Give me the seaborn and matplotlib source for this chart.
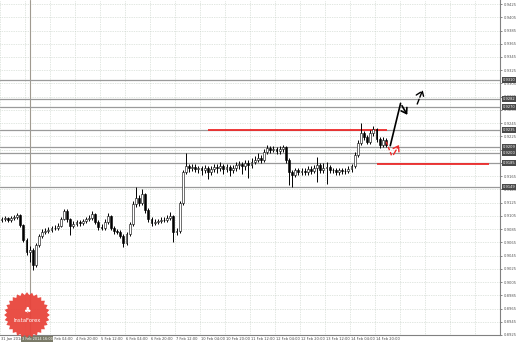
import numpy as np
import matplotlib
matplotlib.use("Agg")
import matplotlib.pyplot as plt
import seaborn as sns
from matplotlib.patches import Polygon

# ---------------- data (2-hour candles) ----------------
closes = [0.9100, 0.9102, 0.9099, 0.9102, 0.9103, 0.9106, 0.9091, 0.9069, 0.9051, 0.9054,
          0.9031, 0.9061, 0.9075, 0.9081, 0.9082, 0.9084, 0.9087, 0.9087, 0.9090, 0.9100,
          0.9113, 0.9100, 0.9090, 0.9093, 0.9096, 0.9094, 0.9097, 0.9100, 0.9102, 0.9108,
          0.9096, 0.9088, 0.9087, 0.9096, 0.9105, 0.9087, 0.9082, 0.9081, 0.9075, 0.9064,
          0.9078, 0.9093, 0.9123, 0.9132, 0.9125, 0.9138, 0.9114, 0.9100, 0.9094, 0.9096,
          0.9097, 0.9099, 0.9099, 0.9102, 0.9105, 0.9081, 0.9082, 0.9125, 0.9171, 0.9180,
          0.9177, 0.9179, 0.9176, 0.9177, 0.9174, 0.9177, 0.9171, 0.9176, 0.9179, 0.9177,
          0.9180, 0.9176, 0.9179, 0.9174, 0.9177, 0.9182, 0.9183, 0.9180, 0.9185, 0.9182,
          0.9187, 0.9190, 0.9193, 0.9190, 0.9202, 0.9208, 0.9205, 0.9206, 0.9203, 0.9206,
          0.9209, 0.9190, 0.9171, 0.9167, 0.9174, 0.9171, 0.9173, 0.9171, 0.9176, 0.9173,
          0.9177, 0.9182, 0.9174, 0.9177, 0.9179, 0.9174, 0.9174, 0.9171, 0.9174, 0.9173,
          0.9173, 0.9176, 0.9180, 0.9197, 0.9215, 0.9230, 0.9224, 0.9217, 0.9230, 0.9236,
          0.9221, 0.9212, 0.9220, 0.9212]
opens = [0.9098, 0.9100, 0.9102, 0.9099, 0.9102, 0.9103, 0.9106, 0.9091, 0.9069, 0.9051,
         0.9054, 0.9031, 0.9061, 0.9075, 0.9081, 0.9082, 0.9084, 0.9087, 0.9087, 0.9090,
         0.9100, 0.9113, 0.9100, 0.9090, 0.9093, 0.9096, 0.9094, 0.9097, 0.9100, 0.9102,
         0.9108, 0.9096, 0.9088, 0.9087, 0.9096, 0.9105, 0.9087, 0.9082, 0.9081, 0.9075,
         0.9064, 0.9078, 0.9093, 0.9123, 0.9132, 0.9125, 0.9138, 0.9114, 0.9100, 0.9094,
         0.9096, 0.9097, 0.9099, 0.9099, 0.9102, 0.9105, 0.9081, 0.9082, 0.9125, 0.9171,
         0.9180, 0.9177, 0.9179, 0.9176, 0.9177, 0.9174, 0.9177, 0.9171, 0.9176, 0.9179,
         0.9177, 0.9180, 0.9176, 0.9179, 0.9174, 0.9177, 0.9182, 0.9183, 0.9180, 0.9185,
         0.9182, 0.9187, 0.9190, 0.9193, 0.9190, 0.9202, 0.9208, 0.9205, 0.9206, 0.9203,
         0.9206, 0.9209, 0.9190, 0.9171, 0.9167, 0.9174, 0.9171, 0.9173, 0.9171, 0.9176,
         0.9173, 0.9177, 0.9182, 0.9174, 0.9177, 0.9179, 0.9174, 0.9174, 0.9171, 0.9174,
         0.9173, 0.9173, 0.9176, 0.9180, 0.9197, 0.9215, 0.9230, 0.9224, 0.9217, 0.9230,
         0.9236, 0.9221, 0.9212, 0.9220]
highs = [0.9104, 0.9105, 0.9104, 0.9105, 0.9107, 0.9110, 0.9108, 0.9093, 0.9072, 0.9060,
         0.9057, 0.9064, 0.9078, 0.9085, 0.9086, 0.9088, 0.9090, 0.9091, 0.9094, 0.9104,
         0.9116, 0.9115, 0.9102, 0.9097, 0.9099, 0.9099, 0.9101, 0.9104, 0.9106, 0.9112,
         0.9110, 0.9098, 0.9092, 0.9100, 0.9110, 0.9107, 0.9090, 0.9085, 0.9084, 0.9078,
         0.9081, 0.9096, 0.9127, 0.9149, 0.9136, 0.9146, 0.9140, 0.9117, 0.9103, 0.9100,
         0.9101, 0.9103, 0.9103, 0.9106, 0.9111, 0.9107, 0.9086, 0.9128, 0.9175, 0.9200,
         0.9184, 0.9183, 0.9183, 0.9181, 0.9180, 0.9182, 0.9180, 0.9180, 0.9184, 0.9183,
         0.9186, 0.9183, 0.9184, 0.9182, 0.9182, 0.9187, 0.9188, 0.9186, 0.9190, 0.9189,
         0.9192, 0.9195, 0.9200, 0.9197, 0.9206, 0.9212, 0.9211, 0.9210, 0.9209, 0.9210,
         0.9212, 0.9211, 0.9193, 0.9175, 0.9178, 0.9178, 0.9177, 0.9177, 0.9180, 0.9180,
         0.9182, 0.9194, 0.9185, 0.9185, 0.9186, 0.9182, 0.9178, 0.9177, 0.9178, 0.9178,
         0.9177, 0.9180, 0.9184, 0.9201, 0.9219, 0.9245, 0.9233, 0.9227, 0.9234, 0.9241,
         0.9238, 0.9224, 0.9224, 0.9223]
lows = [0.9095, 0.9097, 0.9096, 0.9096, 0.9099, 0.9100, 0.9088, 0.9065, 0.9046, 0.9036,
        0.9023, 0.9028, 0.9058, 0.9072, 0.9077, 0.9079, 0.9080, 0.9083, 0.9084, 0.9088,
        0.9098, 0.9096, 0.9076, 0.9087, 0.9090, 0.9090, 0.9091, 0.9094, 0.9097, 0.9099,
        0.9092, 0.9084, 0.9083, 0.9084, 0.9093, 0.9083, 0.9078, 0.9077, 0.9071, 0.9058,
        0.9061, 0.9075, 0.9090, 0.9119, 0.9120, 0.9121, 0.9110, 0.9096, 0.9090, 0.9091,
        0.9092, 0.9094, 0.9095, 0.9096, 0.9099, 0.9066, 0.9076, 0.9079, 0.9122, 0.9168,
        0.9172, 0.9173, 0.9171, 0.9170, 0.9166, 0.9169, 0.9160, 0.9167, 0.9172, 0.9170,
        0.9173, 0.9168, 0.9172, 0.9165, 0.9170, 0.9173, 0.9176, 0.9168, 0.9175, 0.9162,
        0.9178, 0.9183, 0.9186, 0.9185, 0.9187, 0.9198, 0.9200, 0.9201, 0.9199, 0.9199,
        0.9202, 0.9185, 0.9152, 0.9149, 0.9163, 0.9166, 0.9166, 0.9166, 0.9167, 0.9168,
        0.9169, 0.9156, 0.9170, 0.9170, 0.9153, 0.9170, 0.9169, 0.9166, 0.9167, 0.9168,
        0.9168, 0.9169, 0.9172, 0.9177, 0.9194, 0.9212, 0.9219, 0.9213, 0.9214, 0.9226,
        0.9217, 0.9208, 0.9209, 0.9209]

# the 3 Feb 12:00 tick label is hidden under the vertical-line date box in the reference
x_labels = ["31 Jan 2014", "", "4 Feb 04:00", "4 Feb 20:00", "5 Feb 12:00",
            "6 Feb 04:00", "6 Feb 20:00", "7 Feb 12:00", "10 Feb 04:00", "10 Feb 20:00",
            "11 Feb 12:00", "12 Feb 04:00", "12 Feb 20:00", "13 Feb 12:00", "14 Feb 04:00",
            "14 Feb 20:00"]
y_ticks = [0.8925, 0.8945, 0.8965, 0.8985, 0.9005, 0.9025, 0.9045, 0.9065, 0.9085,
           0.9105, 0.9125, 0.9145, 0.9165, 0.9185, 0.9205, 0.9225, 0.9245, 0.9265,
           0.9285, 0.9305, 0.9325, 0.9345, 0.9365, 0.9385, 0.9405, 0.9425]
levels = [0.9310, 0.9282, 0.9270, 0.9235, 0.9209, 0.9200, 0.9185, 0.9149]
red_levels = [0.9235, 0.9183]
red_starts = [66.0, 120.0]
red_ends = [123.5, 156.0]
vline_x = 9.1
vline_label = "3 Feb 2014 16:00"

# forecast arrows (x in candle units, y in price)
black_path_x = [124.4, 127.7, 130.3]
black_path_y = [0.9211, 0.9275, 0.9254]
black_dash_x = [132.7, 135.1]
black_dash_y = [0.9270, 0.9299]
red_path_x = [123.1, 125.0, 127.7]
red_path_y = [0.9217, 0.9194, 0.9216]

# ---------------- figure ----------------
sns.set_theme(style="white")
plt.rcParams["font.family"] = ["DejaVu Sans"]

W, H = 518, 345
fig = plt.figure(figsize=(W / 100, H / 100), dpi=100)
fig.patch.set_facecolor("white")
ax = fig.add_axes([0, 10 / H, 500 / W, 335 / H])
ax.set_facecolor("white")

o = np.array(opens); c = np.array(closes)
hi = np.array(highs); lo = np.array(lows)
xs = np.arange(len(c))

ax.set_xlim(-0.48, 159.52)
ax.set_ylim(0.89253, 0.94311)

# grid
grid_x = [-0.5 + 8 * k for k in range(20)]
for gx in grid_x:
    ax.axvline(gx, color="#c4cfc4", lw=0.5, ls=(0, (1, 1.5)), zorder=0)
for gy in y_ticks:
    ax.axhline(gy, color="#c4cfc4", lw=0.5, ls=(0, (1, 1.5)), zorder=0)

# vertical separator line
ax.axvline(vline_x, color="#a09a90", lw=0.8, zorder=1)

# level lines
for lv in levels:
    ax.axhline(lv, color="#9a9a9a", lw=0.9, zorder=1)
for lv, s, e in zip(red_levels, red_starts, red_ends):
    ax.plot([s, e], [lv, lv], color="#ee2a2a", lw=1.3, zorder=2, solid_capstyle="butt")

# candles
ax.vlines(xs, lo, hi, color="black", lw=0.7, zorder=3)
bull = c >= o
hgt = np.maximum(np.abs(c - o), 0.00004)
bot = np.minimum(o, c)
ax.bar(xs[bull], hgt[bull], bottom=bot[bull], width=0.6, color="white",
       edgecolor="black", lw=0.4, zorder=4)
ax.bar(xs[~bull], hgt[~bull], bottom=bot[~bull], width=0.6, color="black",
       edgecolor="black", lw=0.4, zorder=4)

# arrows
ax.plot(black_path_x[:2], black_path_y[:2], color="black", lw=1.2, zorder=5)
ax.annotate("", xy=(black_path_x[2], black_path_y[2]), xytext=(black_path_x[1], black_path_y[1]),
            arrowprops=dict(arrowstyle="->,head_length=0.3,head_width=0.2", color="black", lw=1.2),
            zorder=5)
ax.annotate("", xy=(black_dash_x[1], black_dash_y[1]), xytext=(black_dash_x[0], black_dash_y[0]),
            arrowprops=dict(arrowstyle="->,head_length=0.35,head_width=0.25", color="black", lw=1.0,
                            ls="--"), zorder=5)
ax.plot(red_path_x[:2], red_path_y[:2], color="#ee2a2a", lw=1.0, ls=(0, (2.5, 1.5)), zorder=5)
ax.annotate("", xy=(red_path_x[2], red_path_y[2]), xytext=(red_path_x[1], red_path_y[1]),
            arrowprops=dict(arrowstyle="->,head_length=0.3,head_width=0.2", color="#ee2a2a", lw=1.0,
                            ls="--"), zorder=5)

# axes styling
for s in ["left", "top"]:
    ax.spines[s].set_visible(False)
for s in ["right", "bottom"]:
    ax.spines[s].set_color("#808080")
    ax.spines[s].set_linewidth(0.8)
ax.yaxis.tick_right()
ax.set_yticks(y_ticks)
ax.set_yticklabels([f"{v:.4f}" for v in y_ticks])
ax.tick_params(axis="y", labelsize=2.7, colors="#555555", length=1.5, pad=1.0, width=0.5)
ax.set_xticks(grid_x[:len(x_labels)])
ax.set_xticklabels([])
ax.tick_params(axis="x", length=2, width=0.5, colors="#777777")
for k, lab in enumerate(x_labels):
    if lab:
        ax.text(grid_x[k] + 0.3, -0.006, lab, transform=ax.get_xaxis_transform(),
                ha="left", va="top", fontsize=2.6, color="#444444")

# vertical line date label
ax.text(vline_x - 2.6, -0.006, vline_label, transform=ax.get_xaxis_transform(),
        ha="left", va="top", fontsize=2.5, color="white", zorder=10,
        bbox=dict(boxstyle="square,pad=0.2", fc="#7a7a68", ec="none"))

# level price boxes
for lv in levels:
    ax.text(1.005, lv, f"{lv:.4f}", transform=ax.get_yaxis_transform(), ha="left",
            va="center", fontsize=2.6, color="white", zorder=10, clip_on=False,
            bbox=dict(boxstyle="square,pad=0.25", fc="#4a4a4a", ec="none"))

# logo
lax = fig.add_axes([3 / W, (H - 339) / H, 48 / W, 48 / H])
lax.set_xlim(-1.05, 1.05); lax.set_ylim(-1.05, 1.05)
lax.set_aspect("equal"); lax.axis("off")
n = 28
ang = np.linspace(0, 2 * np.pi, 2 * n, endpoint=False)
rad = np.where(np.arange(2 * n) % 2 == 0, 1.0, 0.88)
lax.add_patch(Polygon(np.c_[rad * np.cos(ang), rad * np.sin(ang)], closed=True,
                      fc="#e8453c", ec="none", alpha=0.95))
lax.text(0, 0.25, "\u2663", ha="center", va="center", fontsize=6, color="white")
lax.text(0, -0.25, "InstaForex", ha="center", va="center", fontsize=3.8, color="white")

fig.savefig("out.png", dpi=100, facecolor="white")
